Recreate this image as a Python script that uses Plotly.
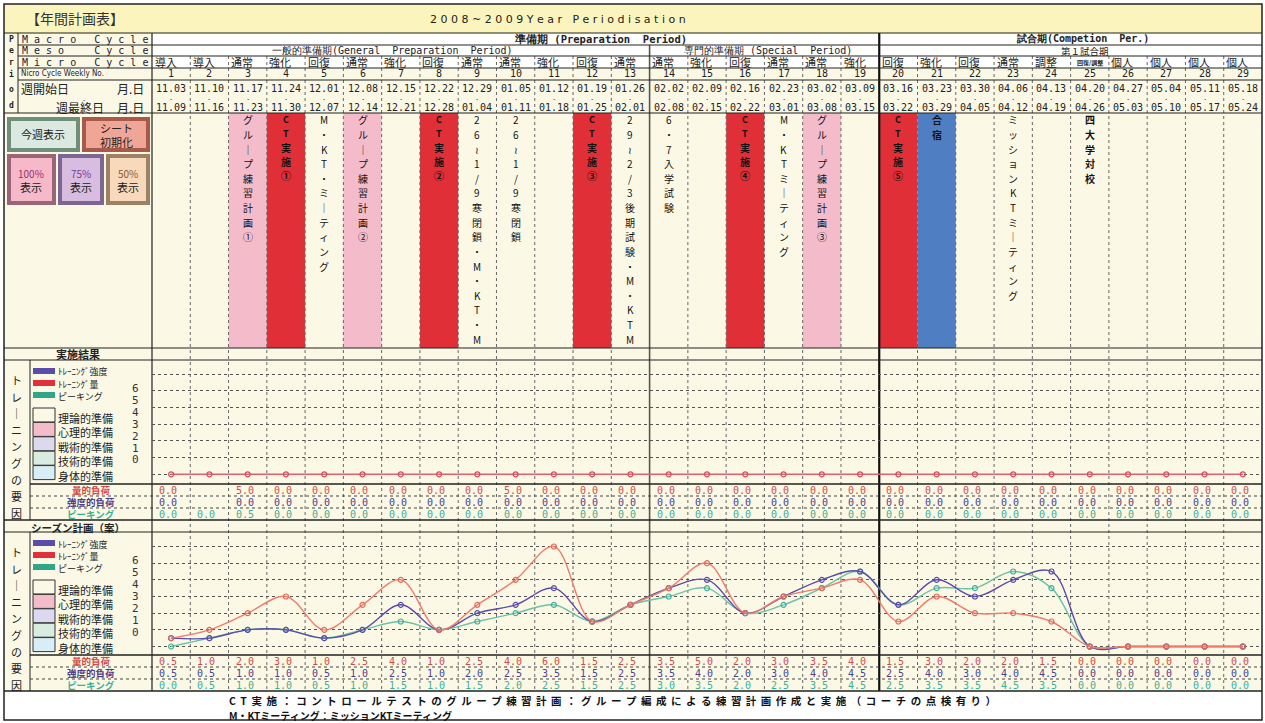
import plotly.graph_objects as go

# ---------------- data ----------------
weeks = list(range(1, 30))
micro_cycle = ["導入", "導入", "通常", "強化", "回復", "通常", "強化", "回復", "通常", "通常",
               "強化", "回復", "通常", "通常", "強化", "回復", "通常", "通常", "強化", "回復",
               "強化", "回復", "通常", "調整", "回復/調整", "個人", "個人", "個人", "個人"]
start_dates = ["11.03", "11.10", "11.17", "11.24", "12.01", "12.08", "12.15", "12.22", "12.29", "01.05",
               "01.12", "01.19", "01.26", "02.02", "02.09", "02.16", "02.23", "03.02", "03.09", "03.16",
               "03.23", "03.30", "04.06", "04.13", "04.20", "04.27", "05.04", "05.11", "05.18"]
end_dates = ["11.09", "11.16", "11.23", "11.30", "12.07", "12.14", "12.21", "12.28", "01.04", "01.11",
             "01.18", "01.25", "02.01", "02.08", "02.15", "02.22", "03.01", "03.08", "03.15", "03.22",
             "03.29", "04.05", "04.12", "04.19", "04.26", "05.03", "05.10", "05.17", "05.24"]

# 実施結果 (results)
res_vol = [0.0, None, 5.0, 0.0, 0.0, 0.0, 0.0, 0.0, 0.0, 5.0, 0.0, 0.0, 0.0, 0.0, 0.0,
           0.0, 0.0, 0.0, 0.0, 0.0, 0.0, 0.0, 0.0, 0.0, 0.0, 0.0, 0.0, 0.0, 0.0]
res_int = [0.0, None, 0.0, 0.0, 0.0, 0.0, 0.0, 0.0, 0.0, 0.0, 0.0, 0.0, 0.0, 0.0, 0.0,
           0.0, 0.0, 0.0, 0.0, 0.0, 0.0, 0.0, 0.0, 0.0, 0.0, 0.0, 0.0, 0.0, 0.0]
res_peak = [0.0, 0.0, 0.5, 0.0, 0.0, 0.0, 0.0, 0.0, 0.0, 0.0, 0.0, 0.0, 0.0, 0.0, 0.0,
            0.0, 0.0, 0.0, 0.0, 0.0, 0.0, 0.0, 0.0, 0.0, 0.0, 0.0, 0.0, 0.0, 0.0]
res_line_vol = [0, 0, 0, 0, 0, 0, 0, 0, 0, 0, 0, 0, 0, 0, 0,
                0, 0, 0, 0, 0, 0, 0, 0, 0, 0, 0, 0, 0, 0]

# シーズン計画 (plan)
plan_vol = [0.5, 1.0, 2.0, 3.0, 1.0, 2.5, 4.0, 1.0, 2.5, 4.0, 6.0, 1.5, 2.5, 3.5, 5.0,
            2.0, 3.0, 3.5, 4.0, 1.5, 3.0, 2.0, 2.0, 1.5, 0.0, 0.0, 0.0, 0.0, 0.0]
plan_int = [0.5, 0.5, 1.0, 1.0, 0.5, 1.0, 2.5, 1.0, 2.0, 2.5, 3.5, 1.5, 2.5, 3.5, 4.0,
            2.0, 3.0, 4.0, 4.5, 2.5, 4.0, 3.0, 4.0, 4.5, 0.0, 0.0, 0.0, 0.0, 0.0]
plan_peak = [0.0, 0.5, 1.0, 1.0, 0.5, 1.0, 1.5, 1.0, 1.5, 2.0, 2.5, 1.5, 2.5, 3.0, 3.5,
             2.0, 2.5, 3.5, 4.5, 2.5, 3.5, 3.5, 4.5, 3.5, 0.0, 0.0, 0.0, 0.0, 0.0]

# events in the upper area
event_weeks = [3, 4, 5, 6, 8, 9, 10, 12, 13, 14, 16, 17, 18, 20, 21, 23, 25]
event_texts = [
    "グル｜プ練習計画①", "CT実施①", "M・KT・ミ｜ティング", "グル｜プ練習計画②", "CT実施②",
    "26≀1/9寒閉鎖・M・KT・M", "26≀1/9寒閉鎖", "CT実施③", "29≀2/3後期試験・M・KTM",
    "6・7入学試験", "CT実施④", "M・KTミ｜ティング", "グル｜プ練習計画③", "CT実施⑤",
    "合宿", "ミッションKTミ｜ティング", "四大学対校"]
event_kinds = ["group", "ct", "plain", "group", "ct", "plain", "plain", "ct", "plain",
               "plain", "ct", "plain", "group", "ct", "camp", "plain", "bold"]

legend_lines = ["ﾄﾚｰﾆﾝｸﾞ強度", "ﾄﾚｰﾆﾝｸﾞ量", "ピーキング"]
legend_boxes = ["理論的準備", "心理的準備", "戦術的準備", "技術的準備", "身体的準備"]
scale_labels = ["6", "5", "4", "3", "2", "1", "0"]

# ---------------- styling / geometry ----------------
FW, FH = 1265, 723
X0, X1 = 152, 1262
CW = (X1 - X0) / 29.0
CREAM = "#fbf9e6"
C_VOL_TXT, C_INT_TXT, C_PK_TXT = "#d24a4a", "#4d3d8c", "#3aaf95"
C_VOL, C_INT, C_PK = "#f07b6b", "#5b4cab", "#6cc2a2"
JP = "Noto Sans CJK JP"
MONO = "DejaVu Sans Mono"


def xp(px):
    return px / FW


def yp(py):
    return 1 - py / FH


def xd(px):
    return 0.5 + (px - X0) / CW


shapes = []
annotations = []


def rect(x0, y0, x1, y1, fill, line="rgba(0,0,0,0)", lw=0, xref="paper"):
    shapes.append(dict(type="rect", xref=xref, yref="paper",
                       x0=xp(x0) if xref == "paper" else x0, x1=xp(x1) if xref == "paper" else x1,
                       y0=yp(y0), y1=yp(y1), fillcolor=fill,
                       line=dict(color=line, width=lw), layer="below"))


def hline(py, px0, px1, color="#222", w=1, dash="solid"):
    shapes.append(dict(type="line", xref="paper", yref="paper", x0=xp(px0), x1=xp(px1),
                       y0=yp(py), y1=yp(py), line=dict(color=color, width=w, dash=dash), layer="below"))


def vline(px, py0, py1, color="#222", w=1, dash="solid"):
    shapes.append(dict(type="line", xref="paper", yref="paper", x0=xp(px), x1=xp(px),
                       y0=yp(py0), y1=yp(py1), line=dict(color=color, width=w, dash=dash), layer="below"))


def vline_x(xv, py0, py1, color="#222", w=1, dash="solid"):
    shapes.append(dict(type="line", xref="x", yref="paper", x0=xv, x1=xv,
                       y0=yp(py0), y1=yp(py1), line=dict(color=color, width=w, dash=dash), layer="below"))


def txt(x, py, text, size=10, color="#222", xanchor="center", xref="paper", font=JP):
    annotations.append(dict(x=xp(x) if xref == "paper" else x, y=yp(py), xref=xref, yref="paper",
                            text=text, showarrow=False, xanchor=xanchor, yanchor="middle",
                            borderpad=0,
                            font=dict(size=size, color=color, family=font)))


def spaced(s):
    return " ".join(s)


# backgrounds
rect(4, 4, 1262, 33, "#fbf5bd")
rect(4, 33, 1262, 691, CREAM)
rect(X0, 33, X1, 68, "#ffffff")
rect(4, 691, 1262, 720, "#ffffff")

# event cell colours
for wk, kind in zip(event_weeks, event_kinds):
    fill = {"group": "#f4bccb", "ct": "#e02f37", "camp": "#4f7fc2"}.get(kind)
    if fill:
        rect(wk - 0.5, 113, wk + 0.5, 348, fill, xref="x")

# buttons
buttons = [
    (7, 117, 80, 152, "#dce9e1", "#6f8f7c"),
    (82, 117, 150, 152, "#f0a696", "#a85a4a"),
    (7, 154, 56, 205, "#f5b9ca", "#9a6577"),
    (58, 154, 104, 205, "#d9bde0", "#7d6690"),
    (106, 154, 150, 205, "#f8d9bb", "#9c8262"),
]
for bx0, by0, bx1, by1, f, l in buttons:
    rect(bx0, by0, bx1, by1, l)
    rect(bx0 + 4, by0 + 4, bx1 - 4, by1 - 4, f)
txt(43, 134, "今週表示", 11, "#222")
txt(116, 128, "シート", 11, "#222")
txt(116, 142, "初期化", 11, "#222")
txt(31, 173, "100%", 10, "#a0306a")
txt(31, 187, "表示", 11, "#222")
txt(81, 173, "75%", 10, "#7a3a90")
txt(81, 187, "表示", 11, "#222")
txt(128, 173, "50%", 10, "#8a5a30")
txt(128, 187, "表示", 11, "#222")

# legend blocks in left panel
for top in [360, 532]:
    bars_y = [top + 11, top + 23, top + 35]
    for by, col, lab in zip(bars_y, [C_INT, "#e0303a", "#2ea789"], legend_lines):
        rect(33, by - 3, 55, by + 3, col)
        txt(57, by + 1, lab, 9, "#222", "left")
    box_cols = [CREAM, "#f4bccb", "#dcd8ee", "#d9ecdf", "#d9edf6"]
    for i, (bc, lab) in enumerate(zip(box_cols, legend_boxes)):
        b0 = top + 48 + i * 14.4
        rect(33, b0, 55, b0 + 14, bc, "#333", 1)
        txt(57, b0 + 10, lab, 11, "#222", "left")
    for i, s in enumerate(scale_labels):
        txt(135, top + 28 + i * 12, s, 11, "#333", font=MONO)
    for i, ch in enumerate(["ト", "レ", "｜", "ニ", "ン", "グ", "の", "要", "因"]):
        txt(16, top + 20 + i * 16.6, ch, 11, "#222")
    vline(30, top, top + 160 if top == 360 else top + 159, "#222", 1)

# row labels of value rows
for base in [484, 655]:
    txt(91, base + 6, "<b>量的負荷</b>", 9.5, C_VOL_TXT)
    txt(91, base + 18, "<b>強度的負荷</b>", 9.5, C_INT_TXT)
    txt(91, base + 29.5, "<b>ピーキング</b>", 9.5, C_PK_TXT)

txt(78, 354, "<b>実施結果</b>", 11, "#222")
txt(78, 527, "<b>シーズン計画（案）</b>", 10.5, "#222")

# title band
txt(25, 18, "【年間計画表】", 14, "#333", "left")
txt(558, 19, spaced("2008~2009Year") + "   " + spaced("Periodisation"), 11, "#222", font="DejaVu Sans")

# header left labels
for i, ch in enumerate(["P", "e", "r", "i", "o", "d"]):
    txt(11, [39, 51, 62, 74, 89, 105][i], "<b>" + ch + "</b>", 8, "#222", font=MONO)
txt(21, 39, spaced("Macro") + "   " + spaced("Cycle"), 10, "#223", "left", font=MONO)
txt(21, 50.5, spaced("Meso") + "     " + spaced("Cycle"), 10, "#223", "left", font=MONO)
txt(21, 62, spaced("Micro") + "   " + spaced("Cycle"), 10, "#223", "left", font=MONO)
txt(20, 74, "Nicro Cycle Weekly No.", 8, "#223", "left", font="DejaVu Sans Condensed")
txt(20, 88, "週開始日", 12, "#222", "left")
txt(116, 88, "月.日", 12, "#222", "left")
txt(84, 97.5, ".", 8, "#222")
txt(55, 107, "週最終日", 12, "#222", "left")
txt(116, 107, "月.日", 12, "#222", "left")

# header spanning texts
txt(xd(600), 38.5, "<b>準備期 (Preparation  Period)</b>", 10.5, "#222", xref="x", font=MONO)
txt(xd(1082), 38.5, "<b>試合期(Competion  Per.)</b>", 10, "#222", xref="x", font=MONO)
txt(xd(392), 51, "一般的準備期(General  Preparation  Period)", 10, "#222", xref="x", font=MONO)
txt(xd(768), 51, "専門的準備期 (Special  Period)", 10, "#222", xref="x", font=MONO)
txt(xd(1085), 51.5, "第１試合期", 9.5, "#222", xref="x")

# per-week header cells
for i, wk in enumerate(weeks):
    mc = micro_cycle[i]
    if len(mc) > 2:
        txt(wk, 62, "<b>" + mc + "</b>", 6, "#222", xref="x")
    else:
        txt(wk - 0.46, 62, mc, 11, "#222", "left", xref="x")
    txt(wk, 74, str(wk), 10, "#222", xref="x", font=MONO)
    txt(wk, 88, start_dates[i], 10, "#222", xref="x", font=MONO)
    txt(wk, 97, ".", 8, "#222", xref="x")
    txt(wk, 107, end_dates[i], 10, "#222", xref="x", font=MONO)

# vertical event texts
for wk, t, kind in zip(event_weeks, event_texts, event_kinds):
    step = 13.8 if kind == "ct" else 14.6
    for j, ch in enumerate(t):
        s = ch
        size = 10
        if kind in ("ct", "camp", "bold"):
            s = "<b>" + ch + "</b>"
        if ch in "CTMK" and kind == "ct":
            size = 9
        txt(wk, 120 + j * step, s, size, "#111", xref="x")


# value rows
def fmt(v):
    return "" if v is None else "%.1f" % v


for i, wk in enumerate(weeks):
    txt(wk - 0.08, 490, fmt(res_vol[i]), 10, C_VOL_TXT, xref="x", font=MONO)
    txt(wk - 0.08, 502, fmt(res_int[i]), 10, C_INT_TXT, xref="x", font=MONO)
    txt(wk - 0.08, 514.5, fmt(res_peak[i]), 10, C_PK_TXT, xref="x", font=MONO)
    txt(wk - 0.08, 661, fmt(plan_vol[i]), 10, C_VOL_TXT, xref="x", font=MONO)
    txt(wk - 0.08, 673, fmt(plan_int[i]), 10, C_INT_TXT, xref="x", font=MONO)
    txt(wk - 0.08, 685, fmt(plan_peak[i]), 10, C_PK_TXT, xref="x", font=MONO)

# footnotes
txt(228, 700.5, "<b>" + " \u2009".join("CT実施：コントロールテストのグループ練習計画：グループ編成による練習計画作成と実施（コーチの点検有り）") + "</b>", 10.5, "#111", "left")
txt(228, 715, "<b>M・KTミーティング：ミッションKTミーティング</b>", 10, "#111", "left")

# ---- grid / rule lines ----
for k in range(1, 29):
    b = k + 0.5
    if k == 19:
        vline_x(b, 33, 691, "#111", 2.2)
    elif k == 13:
        vline_x(b, 45, 691, "#555", 1.6)
    else:
        vline_x(b, 56, 691, "#666", 1, "dot")

hline(33, 4, 1262, "#222", 1.2)
for py in [45, 56, 68, 80]:
    hline(py, 18, 1262, "#222", 1)
hline(113, 4, 1262, "#222", 1.2)
hline(348, 4, 1262, "#222", 1.2)
hline(360, 4, 1262, "#222", 1)
hline(484, 30, 1262, "#222", 1.4)
hline(496, 30, 1262, "#444", 1, "dot")
hline(508, 30, 1262, "#444", 1, "dot")
hline(520, 4, 1262, "#222", 1.4)
hline(532, 4, 1262, "#222", 1)
hline(655, 30, 1262, "#222", 1.4)
hline(667, 30, 1262, "#444", 1, "dot")
hline(679, 30, 1262, "#444", 1, "dot")
hline(691, 4, 1262, "#222", 1.4)
vline(18, 33, 113, "#222", 1)
vline(X0, 33, 691, "#222", 1.2)
rect(4, 4, 1262, 720, "rgba(0,0,0,0)", "#222", 1.5)
shapes[-1]["layer"] = "above"

# ---------------- traces ----------------
fig = go.Figure()
common = dict(mode="lines+markers", line_shape="spline", hoverinfo="skip")
fig.add_trace(go.Scatter(x=weeks, y=plan_peak, yaxis="y", xaxis="x",
                         line=dict(color=C_PK, width=1.4, smoothing=1.0),
                         marker=dict(symbol="circle-open", size=5, color="#3fae9e", line=dict(width=1.2)),
                         **common))
fig.add_trace(go.Scatter(x=weeks, y=plan_int, yaxis="y", xaxis="x",
                         line=dict(color=C_INT, width=1.4, smoothing=1.0),
                         marker=dict(symbol="circle-open", size=5, color=C_INT, line=dict(width=1.2)),
                         **common))
fig.add_trace(go.Scatter(x=weeks, y=plan_vol, yaxis="y", xaxis="x",
                         line=dict(color=C_VOL, width=1.4, smoothing=1.0),
                         marker=dict(symbol="circle-open", size=5, color="#e06a5a", line=dict(width=1.2)),
                         **common))
fig.add_trace(go.Scatter(x=weeks, y=res_line_vol, yaxis="y2", xaxis="x",
                         line=dict(color="#e06070", width=1.4),
                         marker=dict(symbol="circle-open", size=5, color="#d84a5a", line=dict(width=1.2)),
                         mode="lines+markers", hoverinfo="skip"))

px_unit = 16.67
plan_top, plan_bot, plan_zero = 532, 655, 646.5
res_top, res_bot, res_zero = 360, 484, 474.3

yaxis_common = dict(showticklabels=False, zeroline=False, showline=False, showgrid=True,
                    gridcolor="#555", griddash="dot", gridwidth=1, dtick=1, tick0=0,
                    fixedrange=True, anchor="x")
fig.update_layout(
    width=FW, height=FH,
    margin=dict(l=0, r=0, t=0, b=0),
    paper_bgcolor="#ffffff", plot_bgcolor="rgba(0,0,0,0)",
    showlegend=False,
    xaxis=dict(domain=[xp(X0), xp(X1)], range=[0.5, 29.5], showticklabels=False, showgrid=False,
               zeroline=False, showline=False, fixedrange=True),
    yaxis=dict(domain=[yp(plan_bot), yp(plan_top)],
               range=[(plan_zero - plan_bot) / px_unit, (plan_zero - plan_top) / px_unit], **yaxis_common),
    yaxis2=dict(domain=[yp(res_bot), yp(res_top)],
                range=[(res_zero - res_bot) / px_unit, (res_zero - res_top) / px_unit], **yaxis_common),
    shapes=shapes,
    annotations=annotations,
    font=dict(family=JP),
)

fig.write_html("out.html", config={"displayModeBar": False},
               post_script="document.body.style.margin='0';document.body.style.overflow='hidden';")
